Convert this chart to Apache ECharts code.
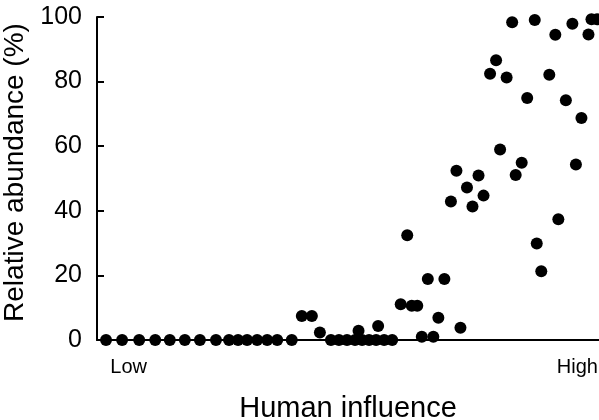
<!DOCTYPE html>
<html>
<head>
<meta charset="utf-8">
<script src="https://cdn.jsdelivr.net/npm/echarts@6/dist/echarts.min.js"></script>
<style>
  html, body { margin: 0; padding: 0; background: #fff; }
  #chart { width: 599px; height: 420px; }
</style>
</head>
<body>
<div id="chart"></div>
<script>
// Position of each site along the human-influence gradient (0 = low, 100 = high)
const influence = [
  1.8, 5.0, 8.4, 11.6, 14.5, 17.5, 20.5, 23.7, 26.3, 28.1, 29.9, 31.9, 33.9, 35.9, 38.8,
  40.8, 42.8, 44.4, 46.6, 48.2, 49.8, 51.4, 52.8, 54.2, 55.6, 57.2, 58.8, 52.1, 56.0,
  60.5, 62.7, 63.8, 61.8, 64.7, 67.0, 65.9, 69.2, 68.0, 72.4,
  70.5, 71.6, 73.7, 74.8, 76.0, 77.0,
  78.3, 79.5, 81.6, 80.3, 82.7, 83.4, 84.6, 85.7, 87.2, 87.6, 88.5,
  90.1, 91.3, 91.9, 93.4, 94.7, 95.4, 96.5, 97.9, 98.5, 99.6
];
// Relative abundance (%) at each site
const abundance = [
  0, 0, 0, 0, 0, 0, 0, 0, 0, 0, 0, 0, 0, 0, 0,
  7.4, 7.4, 2.3, 0, 0, 0, 0, 0, 0, 0, 0, 0, 2.9, 4.3,
  11.1, 10.6, 10.6, 32.4, 1, 1, 18.9, 18.9, 6.9, 3.8,
  42.9, 52.4, 47.2, 41.3, 50.9, 44.7,
  82.4, 86.6, 81.3, 59.0, 98.4, 51.1, 54.9, 74.9, 99.1, 29.9, 21.3,
  82.1, 94.5, 37.4, 74.2, 97.9, 54.3, 68.7, 94.6, 99.3, 99.3
];
const xTickLabels = ['Low', 'High'];
const xTickValues = [6.3, 95.7];
const yTicks = [0, 20, 40, 60, 80, 100];

const points = influence.map((x, i) => [x, abundance[i]]);

const font = 'Liberation Sans, Arial, Helvetica, sans-serif';
const chart = echarts.init(document.getElementById('chart'), null, { renderer: 'canvas' });
chart.setOption({
  animation: false,
  backgroundColor: '#fff',
  grid: { left: 97, right: 0, top: 17, bottom: 80, containLabel: false, outerBoundsMode: 'none' },
  xAxis: {
    type: 'value', min: 0, max: 100,
    name: 'Human influence', nameLocation: 'middle', nameGap: 54,
    nameTextStyle: { fontFamily: font, fontSize: 29, color: '#000' },
    axisLine: { show: true, lineStyle: { color: '#000', width: 2 } },
    axisTick: { show: false },
    splitLine: { show: false },
    axisLabel: {
      customValues: xTickValues,
      formatter: v => xTickLabels[xTickValues.indexOf(v)] || '',
      fontFamily: font, fontSize: 20, color: '#000', margin: 17
    }
  },
  yAxis: {
    type: 'value', min: 0, max: 100, interval: 20,
    name: 'Relative abundance (%)', nameLocation: 'middle', nameGap: 65, nameRotate: 90,
    nameTextStyle: { fontFamily: font, fontSize: 28, color: '#000', padding: [0, 0, 0, 12] },
    axisLine: { show: true, lineStyle: { color: '#000', width: 2 } },
    axisTick: { show: true, inside: true, length: 7, lineStyle: { color: '#000', width: 2 } },
    splitLine: { show: false },
    axisLabel: {
      formatter: v => (yTicks.indexOf(v) >= 0 ? String(v) : ''),
      fontFamily: font, fontSize: 25, color: '#000', margin: 15
    }
  },
  series: [{
    type: 'scatter',
    data: points,
    symbol: 'circle',
    symbolSize: 12,
    clip: false,
    itemStyle: { color: '#000', opacity: 1 }
  }]
});
</script>
</body>
</html>
